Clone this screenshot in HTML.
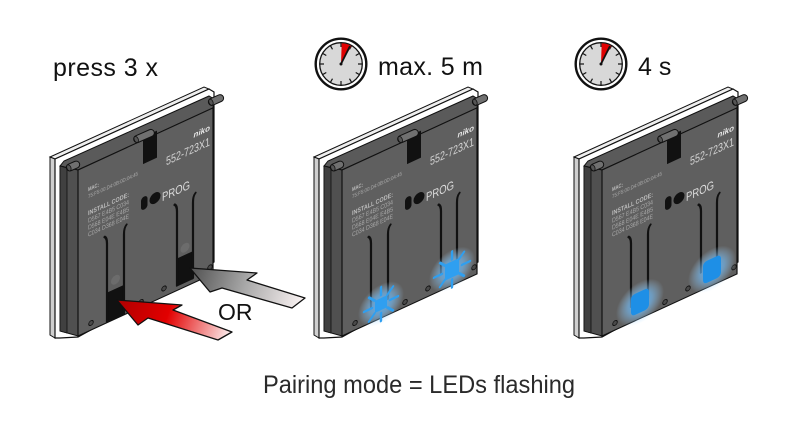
<!DOCTYPE html>
<html><head><meta charset="utf-8"><style>html,body{margin:0;padding:0;background:#fff;}svg{display:block}</style></head>
<body>
<svg width="787" height="425" viewBox="0 0 787 425" xmlns="http://www.w3.org/2000/svg" font-family="'Liberation Sans', Arial, sans-serif">
<defs>
<radialGradient id="glow"><stop offset="0" stop-color="#4aaeff" stop-opacity="0.95"/><stop offset="0.5" stop-color="#78c3ff" stop-opacity="0.6"/><stop offset="1" stop-color="#b0dcff" stop-opacity="0"/></radialGradient>
<linearGradient id="red" gradientUnits="userSpaceOnUse" x1="117" y1="300" x2="228" y2="338"><stop offset="0" stop-color="#b00000"/><stop offset="0.45" stop-color="#e20000"/><stop offset="1" stop-color="#fbeaea"/></linearGradient>
<linearGradient id="grey" gradientUnits="userSpaceOnUse" x1="190" y1="268" x2="300" y2="303"><stop offset="0" stop-color="#505050"/><stop offset="0.5" stop-color="#a8a8a8"/><stop offset="1" stop-color="#f7f0f0"/></linearGradient>
</defs>
<rect width="787" height="425" fill="#fff"/>

<!-- labels -->
<text x="53" y="76" font-size="25" fill="#111" textLength="105" lengthAdjust="spacing">press 3 x</text>
<text x="378" y="75" font-size="25" fill="#111" textLength="105" lengthAdjust="spacing">max. 5 m</text>
<text x="638" y="75" font-size="25" fill="#111">4 s</text>
<text x="263" y="393" font-size="25" fill="#2a2a2a" textLength="312" lengthAdjust="spacingAndGlyphs">Pairing mode = LEDs flashing</text>

<!-- clocks -->
<g transform="translate(341,64)">
<circle r="25.3" fill="#fff" stroke="#111" stroke-width="2.4"/>
<circle r="21.3" fill="#d8d8d8" stroke="#111" stroke-width="1.3"/>
<g stroke="#111" stroke-width="1.2">
<line x1="0" y1="-17" x2="0" y2="-21"/><line x1="0" y1="-17" x2="0" y2="-21" transform="rotate(30)"/><line x1="0" y1="-17" x2="0" y2="-21" transform="rotate(60)"/><line x1="0" y1="-17" x2="0" y2="-21" transform="rotate(90)"/><line x1="0" y1="-17" x2="0" y2="-21" transform="rotate(120)"/><line x1="0" y1="-17" x2="0" y2="-21" transform="rotate(150)"/><line x1="0" y1="-17" x2="0" y2="-21" transform="rotate(180)"/><line x1="0" y1="-17" x2="0" y2="-21" transform="rotate(210)"/><line x1="0" y1="-17" x2="0" y2="-21" transform="rotate(240)"/><line x1="0" y1="-17" x2="0" y2="-21" transform="rotate(270)"/><line x1="0" y1="-17" x2="0" y2="-21" transform="rotate(300)"/><line x1="0" y1="-17" x2="0" y2="-21" transform="rotate(330)"/>
</g>
<path d="M0,0 L0.7,-20.7 A20.7,20.7 0 0 1 10.4,-17.9 Z" fill="#e00000"/>
<line x1="0" y1="0" x2="9" y2="-18" stroke="#111" stroke-width="1.8"/>
<circle r="1.5" fill="#111"/>
</g>
<g transform="translate(601,64)">
<circle r="25.3" fill="#fff" stroke="#111" stroke-width="2.4"/>
<circle r="21.3" fill="#d8d8d8" stroke="#111" stroke-width="1.3"/>
<g stroke="#111" stroke-width="1.2">
<line x1="0" y1="-17" x2="0" y2="-21"/><line x1="0" y1="-17" x2="0" y2="-21" transform="rotate(30)"/><line x1="0" y1="-17" x2="0" y2="-21" transform="rotate(60)"/><line x1="0" y1="-17" x2="0" y2="-21" transform="rotate(90)"/><line x1="0" y1="-17" x2="0" y2="-21" transform="rotate(120)"/><line x1="0" y1="-17" x2="0" y2="-21" transform="rotate(150)"/><line x1="0" y1="-17" x2="0" y2="-21" transform="rotate(180)"/><line x1="0" y1="-17" x2="0" y2="-21" transform="rotate(210)"/><line x1="0" y1="-17" x2="0" y2="-21" transform="rotate(240)"/><line x1="0" y1="-17" x2="0" y2="-21" transform="rotate(270)"/><line x1="0" y1="-17" x2="0" y2="-21" transform="rotate(300)"/><line x1="0" y1="-17" x2="0" y2="-21" transform="rotate(330)"/>
</g>
<path d="M0,0 L0.7,-20.7 A20.7,20.7 0 0 1 10.4,-17.9 Z" fill="#e00000"/>
<line x1="0" y1="0" x2="9" y2="-18" stroke="#111" stroke-width="1.8"/>
<circle r="1.5" fill="#111"/>
</g>

<!-- ================= DEVICE 1 ================= -->
<g>
<polygon points="50,157 204,87 209,89 55,159" fill="#eee" stroke="#111" stroke-width="1"/>
<polygon points="50,157 55,159 55,338 50,335" fill="#d0d0d0" stroke="#111" stroke-width="1"/>
<polygon points="55,159 209,89 214,92 214,262 78,337 60,338 55,338" fill="#fff" stroke="#111" stroke-width="1.2"/>
<polygon points="60,166 64,161 209,96 214,99 213,108 78,170" fill="#5a5a5a" stroke="#111" stroke-width="1"/>
<polygon points="60,166 78,170 78,336 60,331" fill="#505050" stroke="#111" stroke-width="1"/>
<polygon points="60,166 67,168 67,333 60,331" fill="#404040" stroke="#111" stroke-width="0.8"/>
<g transform="matrix(1,-0.46,0,1,78,170)">
<rect x="0" y="0" width="135" height="166" fill="#5f5f5f" stroke="#111" stroke-width="1.2"/>
<rect x="65" y="-3" width="14" height="27" fill="#111"/>
<text x="132" y="21" font-size="8" font-weight="bold" font-style="italic" fill="#e6e6e6" text-anchor="end">niko</text>
<text x="132" y="36" font-size="12" fill="#d4d4d4" text-anchor="end" textLength="44" lengthAdjust="spacingAndGlyphs">552-723X1</text>
<text x="10" y="26" font-size="5.5" font-weight="bold" fill="#bbb" textLength="11" lengthAdjust="spacingAndGlyphs">MAC:</text>
<text x="10" y="33" font-size="5.5" fill="#aaa" textLength="50" lengthAdjust="spacingAndGlyphs">75:F5:00:D4:0B:0D:04:45</text>
<text x="10" y="50" font-size="6.5" font-weight="bold" fill="#bbb" textLength="41" lengthAdjust="spacingAndGlyphs">INSTALL CODE:</text>
<text x="10" y="57.5" font-size="6.5" fill="#aaa" textLength="41" lengthAdjust="spacingAndGlyphs">D567 E4B5 C034</text>
<text x="10" y="64.5" font-size="6.5" fill="#aaa" textLength="41" lengthAdjust="spacingAndGlyphs">D568 E04E E4B5</text>
<text x="10" y="71.5" font-size="6.5" fill="#aaa" textLength="41" lengthAdjust="spacingAndGlyphs">C034 D368 E04E</text>
<rect x="63" y="57" width="6.5" height="13" rx="3.2" fill="#111"/>
<circle cx="77" cy="63.5" r="5.5" fill="#111"/>
<text x="84" y="70" font-size="12" fill="#ddd" textLength="28" lengthAdjust="spacingAndGlyphs">PROG</text>
<rect x="29" y="136" width="17" height="30" fill="#111"/>
<rect x="99" y="134" width="16" height="28" fill="#111"/>
<circle cx="37.5" cy="127" r="4.5" fill="#6c6c6c"/>
<circle cx="107" cy="127" r="4.5" fill="#6c6c6c"/>
<path d="M26.5,79 Q29,81 29,87 L29,165 M48.5,77 Q46,79 46,85 L46,165 M96.5,79 Q99,81 99,87 L99,161 M117.5,77 Q115,79 115,85 L115,161" stroke="#111" stroke-width="2.2" fill="none" stroke-linecap="round"/>
<g fill="#4a4a4a" stroke="#111" stroke-width="0.9"><circle cx="13" cy="159" r="2.3"/><circle cx="63" cy="161" r="2.3"/><circle cx="86" cy="158" r="2.3"/><circle cx="132" cy="158" r="2.3"/></g>
</g>
<g transform="translate(73,166) rotate(-24)"><rect x="-7" y="-3.5" width="14" height="7" rx="3.5" fill="#707070" stroke="#111"/><ellipse cx="-4.5" cy="0" rx="2" ry="3.2" fill="#555" stroke="#111" stroke-width=".8"/></g>
<g transform="translate(144,136) rotate(-24)"><rect x="-11" y="-3.5" width="22" height="7" rx="3.5" fill="#707070" stroke="#111"/><ellipse cx="-8.5" cy="0" rx="2" ry="3.2" fill="#555" stroke="#111" stroke-width=".8"/></g>
<g transform="translate(216,100) rotate(-24)"><rect x="-8" y="-3.5" width="16" height="7" rx="3.5" fill="#707070" stroke="#111"/><ellipse cx="-5.5" cy="0" rx="2" ry="3.2" fill="#555" stroke="#111" stroke-width=".8"/></g>
</g>

<!-- arrows -->
<polygon points="190,268 257,273 247,280 305,298 292,308 222,288 210,292" fill="url(#grey)" stroke="#111" stroke-width="1.3" stroke-linejoin="round"/>
<polygon points="117,300 182,305 173,310 232,332 218,340 148,318 138,325" fill="url(#red)" stroke="#111" stroke-width="1.3" stroke-linejoin="round"/>
<text x="218" y="320" font-size="23" fill="#111">OR</text>

<!-- ================= DEVICE 2 ================= -->
<g transform="translate(264,0)">
<polygon points="50,157 204,87 209,89 55,159" fill="#eee" stroke="#111" stroke-width="1"/>
<polygon points="50,157 55,159 55,338 50,335" fill="#d0d0d0" stroke="#111" stroke-width="1"/>
<polygon points="55,159 209,89 214,92 214,262 78,337 60,338 55,338" fill="#fff" stroke="#111" stroke-width="1.2"/>
<polygon points="60,166 64,161 209,96 214,99 213,108 78,170" fill="#5a5a5a" stroke="#111" stroke-width="1"/>
<polygon points="60,166 78,170 78,336 60,331" fill="#505050" stroke="#111" stroke-width="1"/>
<polygon points="60,166 67,168 67,333 60,331" fill="#404040" stroke="#111" stroke-width="0.8"/>
<g transform="matrix(1,-0.46,0,1,78,170)">
<rect x="0" y="0" width="135" height="166" fill="#5f5f5f" stroke="#111" stroke-width="1.2"/>
<rect x="65" y="-3" width="14" height="27" fill="#111"/>
<text x="132" y="21" font-size="8" font-weight="bold" font-style="italic" fill="#e6e6e6" text-anchor="end">niko</text>
<text x="132" y="36" font-size="12" fill="#d4d4d4" text-anchor="end" textLength="44" lengthAdjust="spacingAndGlyphs">552-723X1</text>
<text x="10" y="26" font-size="5.5" font-weight="bold" fill="#bbb" textLength="11" lengthAdjust="spacingAndGlyphs">MAC:</text>
<text x="10" y="33" font-size="5.5" fill="#aaa" textLength="50" lengthAdjust="spacingAndGlyphs">75:F5:00:D4:0B:0D:04:45</text>
<text x="10" y="50" font-size="6.5" font-weight="bold" fill="#bbb" textLength="41" lengthAdjust="spacingAndGlyphs">INSTALL CODE:</text>
<text x="10" y="57.5" font-size="6.5" fill="#aaa" textLength="41" lengthAdjust="spacingAndGlyphs">D567 E4B5 C034</text>
<text x="10" y="64.5" font-size="6.5" fill="#aaa" textLength="41" lengthAdjust="spacingAndGlyphs">D568 E04E E4B5</text>
<text x="10" y="71.5" font-size="6.5" fill="#aaa" textLength="41" lengthAdjust="spacingAndGlyphs">C034 D368 E04E</text>
<rect x="63" y="57" width="6.5" height="13" rx="3.2" fill="#111"/>
<circle cx="77" cy="63.5" r="5.5" fill="#111"/>
<text x="84" y="70" font-size="12" fill="#ddd" textLength="28" lengthAdjust="spacingAndGlyphs">PROG</text>
<path d="M26.5,79 Q29,81 29,87 L29,150 M48.5,77 Q46,79 46,85 L46,150 M96.5,79 Q99,81 99,87 L99,148 M117.5,77 Q115,79 115,85 L115,148" stroke="#111" stroke-width="2.2" fill="none" stroke-linecap="round"/>
<g fill="#4a4a4a" stroke="#111" stroke-width="0.9"><circle cx="13" cy="159" r="2.3"/><circle cx="63" cy="161" r="2.3"/><circle cx="86" cy="158" r="2.3"/><circle cx="132" cy="158" r="2.3"/></g>
<ellipse cx="39" cy="152" rx="23" ry="20" fill="url(#glow)"/>
<ellipse cx="110" cy="150" rx="23" ry="20" fill="url(#glow)"/>
<g stroke="#2f9ff0" stroke-width="2.4" stroke-linecap="round">
<line x1="48" y1="152" x2="56" y2="152"/><line x1="45.4" y1="158.4" x2="51" y2="164"/><line x1="39" y1="161" x2="39" y2="169"/><line x1="32.6" y1="158.4" x2="27" y2="164"/><line x1="30" y1="152" x2="22" y2="152"/><line x1="32.6" y1="145.6" x2="27" y2="140"/><line x1="39" y1="143" x2="39" y2="135"/><line x1="45.4" y1="145.6" x2="51" y2="140"/>
<line x1="120" y1="150" x2="128" y2="150"/><line x1="117" y1="157" x2="122" y2="162"/><line x1="110" y1="160" x2="110" y2="168"/><line x1="103" y1="157" x2="98" y2="162"/><line x1="100" y1="150" x2="92" y2="150"/><line x1="103" y1="143" x2="98" y2="138"/><line x1="110" y1="140" x2="110" y2="132"/><line x1="117" y1="143" x2="122" y2="138"/>
</g>
<rect x="33" y="146" width="12" height="12" fill="#2f9ff0"/>
<rect x="103" y="142" width="14" height="16" fill="#2f9ff0"/>
</g>
<g transform="translate(73,166) rotate(-24)"><rect x="-7" y="-3.5" width="14" height="7" rx="3.5" fill="#707070" stroke="#111"/><ellipse cx="-4.5" cy="0" rx="2" ry="3.2" fill="#555" stroke="#111" stroke-width=".8"/></g>
<g transform="translate(144,136) rotate(-24)"><rect x="-11" y="-3.5" width="22" height="7" rx="3.5" fill="#707070" stroke="#111"/><ellipse cx="-8.5" cy="0" rx="2" ry="3.2" fill="#555" stroke="#111" stroke-width=".8"/></g>
<g transform="translate(216,100) rotate(-24)"><rect x="-8" y="-3.5" width="16" height="7" rx="3.5" fill="#707070" stroke="#111"/><ellipse cx="-5.5" cy="0" rx="2" ry="3.2" fill="#555" stroke="#111" stroke-width=".8"/></g>
</g>

<!-- ================= DEVICE 3 ================= -->
<g transform="translate(524,0)">
<polygon points="50,157 204,87 209,89 55,159" fill="#eee" stroke="#111" stroke-width="1"/>
<polygon points="50,157 55,159 55,338 50,335" fill="#d0d0d0" stroke="#111" stroke-width="1"/>
<polygon points="55,159 209,89 214,92 214,262 78,337 60,338 55,338" fill="#fff" stroke="#111" stroke-width="1.2"/>
<polygon points="60,166 64,161 209,96 214,99 213,108 78,170" fill="#5a5a5a" stroke="#111" stroke-width="1"/>
<polygon points="60,166 78,170 78,336 60,331" fill="#505050" stroke="#111" stroke-width="1"/>
<polygon points="60,166 67,168 67,333 60,331" fill="#404040" stroke="#111" stroke-width="0.8"/>
<g transform="matrix(1,-0.46,0,1,78,170)">
<rect x="0" y="0" width="135" height="166" fill="#5f5f5f" stroke="#111" stroke-width="1.2"/>
<rect x="65" y="-3" width="14" height="27" fill="#111"/>
<text x="132" y="21" font-size="8" font-weight="bold" font-style="italic" fill="#e6e6e6" text-anchor="end">niko</text>
<text x="132" y="36" font-size="12" fill="#d4d4d4" text-anchor="end" textLength="44" lengthAdjust="spacingAndGlyphs">552-723X1</text>
<text x="10" y="26" font-size="5.5" font-weight="bold" fill="#bbb" textLength="11" lengthAdjust="spacingAndGlyphs">MAC:</text>
<text x="10" y="33" font-size="5.5" fill="#aaa" textLength="50" lengthAdjust="spacingAndGlyphs">75:F5:00:D4:0B:0D:04:45</text>
<text x="10" y="50" font-size="6.5" font-weight="bold" fill="#bbb" textLength="41" lengthAdjust="spacingAndGlyphs">INSTALL CODE:</text>
<text x="10" y="57.5" font-size="6.5" fill="#aaa" textLength="41" lengthAdjust="spacingAndGlyphs">D567 E4B5 C034</text>
<text x="10" y="64.5" font-size="6.5" fill="#aaa" textLength="41" lengthAdjust="spacingAndGlyphs">D568 E04E E4B5</text>
<text x="10" y="71.5" font-size="6.5" fill="#aaa" textLength="41" lengthAdjust="spacingAndGlyphs">C034 D368 E04E</text>
<rect x="63" y="57" width="6.5" height="13" rx="3.2" fill="#111"/>
<circle cx="77" cy="63.5" r="5.5" fill="#111"/>
<text x="84" y="70" font-size="12" fill="#ddd" textLength="28" lengthAdjust="spacingAndGlyphs">PROG</text>
<path d="M26.5,79 Q29,81 29,87 L29,150 M48.5,77 Q46,79 46,85 L46,150 M96.5,79 Q99,81 99,87 L99,148 M117.5,77 Q115,79 115,85 L115,148" stroke="#111" stroke-width="2.2" fill="none" stroke-linecap="round"/>
<g fill="#4a4a4a" stroke="#111" stroke-width="0.9"><circle cx="13" cy="159" r="2.3"/><circle cx="63" cy="161" r="2.3"/><circle cx="86" cy="158" r="2.3"/><circle cx="132" cy="158" r="2.3"/></g>
<ellipse cx="38" cy="150" rx="24" ry="21" fill="url(#glow)"/>
<ellipse cx="110" cy="150" rx="24" ry="21" fill="url(#glow)"/>
<rect x="29" y="139" width="18" height="21" rx="4" fill="#1e8fe6"/>
<rect x="101" y="139" width="18" height="22" rx="4" fill="#1e8fe6"/>
</g>
<g transform="translate(73,166) rotate(-24)"><rect x="-7" y="-3.5" width="14" height="7" rx="3.5" fill="#707070" stroke="#111"/><ellipse cx="-4.5" cy="0" rx="2" ry="3.2" fill="#555" stroke="#111" stroke-width=".8"/></g>
<g transform="translate(144,136) rotate(-24)"><rect x="-11" y="-3.5" width="22" height="7" rx="3.5" fill="#707070" stroke="#111"/><ellipse cx="-8.5" cy="0" rx="2" ry="3.2" fill="#555" stroke="#111" stroke-width=".8"/></g>
<g transform="translate(216,100) rotate(-24)"><rect x="-8" y="-3.5" width="16" height="7" rx="3.5" fill="#707070" stroke="#111"/><ellipse cx="-5.5" cy="0" rx="2" ry="3.2" fill="#555" stroke="#111" stroke-width=".8"/></g>
</g>
</svg>
</body></html>
